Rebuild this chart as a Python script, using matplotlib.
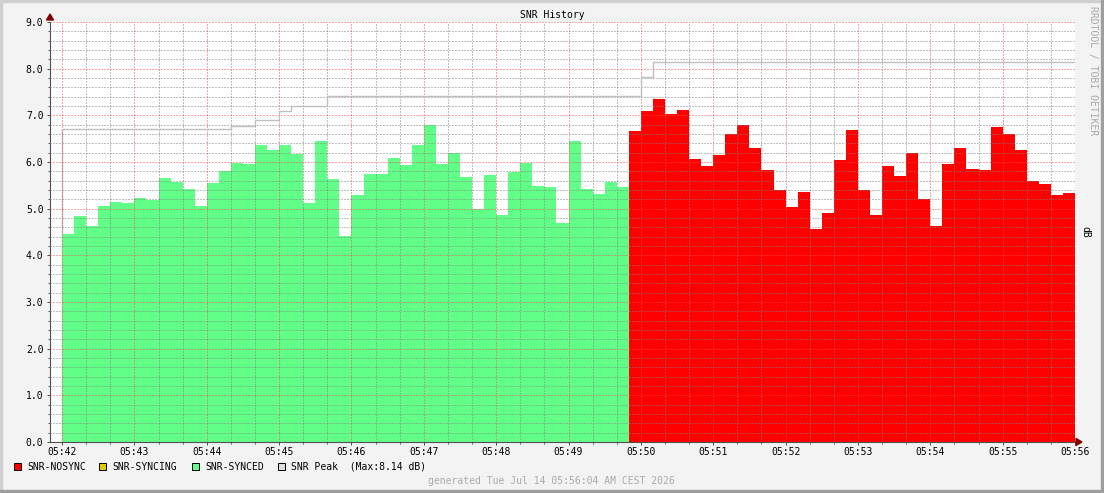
import numpy as np
import matplotlib.pyplot as plt
from matplotlib.patches import Rectangle, Polygon
from matplotlib.ticker import MultipleLocator, FuncFormatter

plt.rcParams['font.family'] = ['DejaVu Sans Mono']
plt.rcParams['font.size'] = 7

W, H = 1104, 493
step = 10            # seconds per sample
start_min = 5*60+42  # 05:42

# SNR samples (dB), 10 s apart
synced = [4.46, 4.85, 4.62, 5.06, 5.15, 5.12, 5.23, 5.19, 5.66, 5.58,
          5.43, 5.06, 5.55, 5.81, 5.98, 5.96, 6.36, 6.26, 6.36, 6.18,
          5.12, 6.46, 5.64, 4.42, 5.30, 5.75, 5.75, 6.09, 5.94, 6.37,
          6.80, 5.96, 6.20, 5.68, 5.00, 5.73, 4.87, 5.79, 5.98, 5.49,
          5.47, 4.70, 6.46, 5.43, 5.32, 5.58, 5.47]
nosync = [6.67, 7.10, 7.36, 7.03, 7.12, 6.07, 5.92, 6.15, 6.59, 6.80,
          6.31, 5.83, 5.40, 5.04, 5.36, 4.57, 4.91, 6.05, 6.69, 5.40,
          4.87, 5.92, 5.70, 6.20, 5.21, 4.63, 5.96, 6.31, 5.85, 5.83,
          6.76, 6.61, 6.26, 5.60, 5.53, 5.30, 5.34]
# peak SNR: sample index where it changes, and the new level
peak_idx = [0, 14, 16, 18, 19, 22, 48, 49]
peak_lvl = [6.71, 6.78, 6.90, 7.09, 7.21, 7.42, 7.82, 8.14]

legend_labels = ['SNR-NOSYNC', 'SNR-SYNCING', 'SNR-SYNCED',
                 'SNR Peak  (Max:%.2f dB)' % max(peak_lvl)]
legend_colors = ['#FF0000', '#DDCC00', '#62FF88', '#DDDDDD']
generated = 'generated Tue Jul 14 05:56:04 AM CEST 2026'

n = len(synced) + len(nosync)
edges = np.arange(n + 1) * step
g_edges = edges[:len(synced) + 1]
r_edges = edges[len(synced):]
p_edges = np.append(np.array(peak_idx) * step, n * step)

def fx(x):
    return x / W
def fy(y):
    return 1 - y / H

fig = plt.figure(figsize=(W/100, H/100), dpi=100, facecolor='#F3F3F3')
ax = fig.add_axes([fx(50), fy(442), (1075-50)/W, 420/H])
ax.set_facecolor('white')

ax.vlines(p_edges[0], 0, peak_lvl[0], color='#C0C0C0', lw=1.0, zorder=0.5)
ax.stairs(synced, g_edges, fill=True, color='#62FF88', lw=0, zorder=1)
ax.stairs(nosync, r_edges, fill=True, color='#FF0000', lw=0, zorder=1)
ax.stairs(peak_lvl, p_edges, baseline=None, color='#C0C0C0', lw=1.0, zorder=3)

ax.set_xlim(-10, n * step)
ax.set_ylim(0, 9)
ax.xaxis.set_major_locator(MultipleLocator(60))
ax.xaxis.set_minor_locator(MultipleLocator(20))
ax.yaxis.set_major_locator(MultipleLocator(1))
ax.yaxis.set_minor_locator(MultipleLocator(0.2))

def tfmt(v, p):
    m = int(round(start_min + v / 60))
    return '%02d:%02d' % (m // 60, m % 60)
ax.xaxis.set_major_formatter(FuncFormatter(tfmt))
ax.yaxis.set_major_formatter(FuncFormatter(lambda v, p: '%.1f' % v))

ax.set_axisbelow(False)
ax.grid(which='minor', color=(0.5, 0.5, 0.5, 0.28), ls=(0, (1, 2)), lw=0.72)
ax.grid(which='major', color=(0.95, 0.3, 0.3, 0.38), ls=(0, (1, 2)), lw=0.72)

for s in ['top', 'right']:
    ax.spines[s].set_visible(False)
for s in ['left', 'bottom']:
    ax.spines[s].set_color('#505050')
    ax.spines[s].set_linewidth(0.8)
ax.tick_params(which='major', length=2.2, width=0.72, color='#505050', pad=2.5)
ax.tick_params(which='minor', length=1.4, width=0.72, color='#606060')
ax.tick_params(axis='x', pad=1.5)

# axis arrows
fig.patches.append(Polygon([(fx(46.5), fy(20)), (fx(53.5), fy(20)), (fx(50), fy(14))],
                           closed=True, color='#7F0000', transform=fig.transFigure))
fig.patches.append(Polygon([(fx(1076), fy(438.5)), (fx(1076), fy(445.5)), (fx(1082), fy(442))],
                           closed=True, color='#7F0000', transform=fig.transFigure))

# 3d-ish border
fig.patches.append(Rectangle((0, fy(2)), 1, 2/H, color='#CFCFCF', transform=fig.transFigure))
fig.patches.append(Rectangle((0, 0), 2/W, 1, color='#CFCFCF', transform=fig.transFigure))
fig.patches.append(Rectangle((0, 0), 1, 3/H, color='#9E9E9E', transform=fig.transFigure))
fig.patches.append(Rectangle((fx(1101), 0), 3/W, 1, color='#9E9E9E', transform=fig.transFigure))

fig.text(fx(552), fy(15.5), 'SNR History', ha='center', va='center', fontsize=7)
fig.text(fx(1093), fy(71), 'RRDTOOL / TOBI OETIKER', rotation=270, ha='center',
         va='center', color='#A8A8A8', fontsize=7)
fig.text(fx(1085), fy(232), 'dB', rotation=270, ha='center', va='center', fontsize=7)

box_x = [14, 99, 192, 278]
for bx, lab, col in zip(box_x, legend_labels, legend_colors):
    fig.patches.append(Rectangle((fx(bx), fy(470)), 7/W, 7/H, facecolor=col,
                                 edgecolor='black', lw=0.7, transform=fig.transFigure))
    fig.text(fx(bx + 13), fy(466.5), lab, ha='left', va='center', fontsize=7)

fig.text(fx(551), fy(481), generated, ha='center', va='center', color='#AAAAAA', fontsize=7)

fig.savefig('out.png', dpi=100, facecolor=fig.get_facecolor())
